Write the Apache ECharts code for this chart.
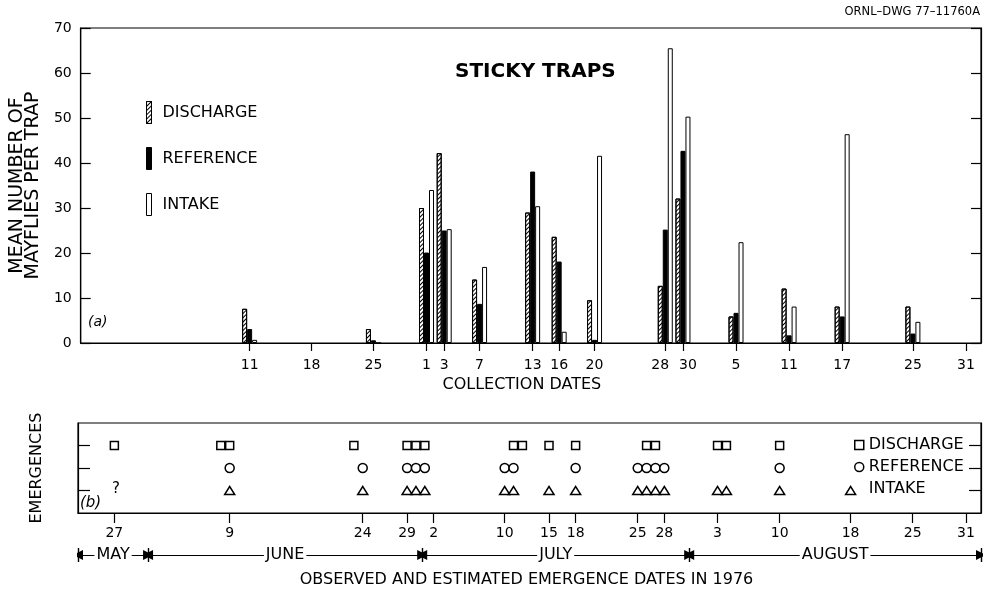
<!DOCTYPE html>
<html><head><meta charset="utf-8">
<script src="https://cdn.jsdelivr.net/npm/echarts@6/dist/echarts.min.js"></script>
<style>html,body{margin:0;padding:0;background:#fff}#c{width:989px;height:593px}</style>
</head><body><div id="c"></div>
<script>
// Day numbers: 1 = June 1, 1976 (0 = May 31, 31 = July 1, 62 = August 1)
const collectionDays   = [11, 25, 31, 33, 37, 43, 46, 50, 58, 60, 66, 72, 78, 86];
const dischargeMean    = [7.6, 3.1, 30.0, 42.2, 14.1, 29.0, 23.6, 9.5, 12.7, 32.1, 5.9, 12.1, 8.1, 8.1];
const referenceMean    = [3.1, 0.6, 20.1, 25.0, 8.7, 38.1, 18.1, 0.7, 25.2, 42.7, 6.7, 1.7, 5.9, 2.1];
const intakeMean       = [0.7, 0, 34.0, 25.3, 16.9, 30.4, 2.5, 41.6, 65.5, 50.3, 22.4, 8.1, 46.4, 4.7];

const collectionTickDays   = [11, 18, 25, 31, 33, 37, 43, 46, 50, 58, 60, 66, 72, 78, 86, 92];
const collectionTickLabels = ['11','18','25','1','3','7','13','16','20','28','30','5','11','17','25','31'];

const dischargeEmergence = [-4, 8, 9, 23, 29, 30, 31, 41, 42, 45, 48, 56, 57, 64, 65, 71];
const referenceEmergence = [9, 24, 29, 30, 31, 40, 41, 48, 55, 56, 57, 58, 71];
const intakeEmergence    = [9, 24, 29, 30, 31, 40, 41, 45, 48, 55, 56, 57, 58, 64, 65, 71, 79];

const emergenceTickDays   = [-4, 9, 24, 29, 32, 40, 45, 48, 55, 58, 64, 71, 79, 86, 92];
const emergenceTickLabels = ['27','9','24','29','2','10','15','18','25','28','3','10','18','25','31'];

const months      = ['MAY', 'JUNE', 'JULY', 'AUGUST'];
const monthBounds = [-8.1, -0.2, 30.7, 60.8, 93.7];

const DAY_MIN = -8.1, DAY_MAX = 93.7;
const FONT = 'DejaVu Sans';
const BLACK = '#000';

const chart = echarts.init(document.getElementById('c'), null, {renderer: 'canvas'});

const axisLineStyle = {show: true, onZero: false, lineStyle: {color: BLACK, width: 1.2}};
const tickStyle = {color: BLACK, width: 1.2};

// crowded neighbouring labels (28 / 30) are nudged apart, as in the drawing
function collectionLabel(v) {
  const i = collectionTickDays.indexOf(v);
  const t = collectionTickLabels[i];
  const prev = collectionTickDays[i - 1], next = collectionTickDays[i + 1];
  if (next !== undefined && next - v <= 2 && t.length > 1) return '{l|' + t + '}';
  if (prev !== undefined && v - prev <= 2 && t.length > 1) return '{r|' + t + '}';
  return t;
}

const option = {
  animation: false,
  backgroundColor: '#fff',
  textStyle: {fontFamily: FONT, color: BLACK},
  title: [
    {text: 'STICKY TRAPS', left: 455, top: 62, padding: 0,
     textStyle: {fontFamily: FONT, fontSize: 20, fontWeight: 'bold', color: BLACK}},
    {text: 'ORNL–DWG 77–11760A', right: 9, top: 6, padding: 0,
     textStyle: {fontFamily: FONT, fontSize: 11.5, fontWeight: 'normal', color: BLACK}},
    {text: '(a)', left: 88, top: 315, padding: 0,
     textStyle: {fontFamily: FONT, fontSize: 14, fontStyle: 'italic', fontWeight: 'normal', color: BLACK}},
    {text: '(b)', left: 80, top: 496, padding: 0,
     textStyle: {fontFamily: FONT, fontSize: 15, fontStyle: 'italic', fontWeight: 'normal', color: BLACK}},
    {text: '?', left: 112, top: 482, padding: 0,
     textStyle: {fontFamily: FONT, fontSize: 15, fontWeight: 'normal', color: BLACK}}
  ],
  legend: [
    {left: 141, top: 96, orient: 'vertical', itemWidth: 5, itemHeight: 22, itemGap: 23,
     icon: 'rect', selectedMode: false,
     data: ['DISCHARGE', 'REFERENCE', 'INTAKE'],
     itemStyle: {borderWidth: 1, borderColor: BLACK},
     textStyle: {fontFamily: FONT, fontSize: 16, color: BLACK, padding: [0, 0, 0, 6]}},
    {left: 849, top: 432, orient: 'vertical', itemWidth: 9, itemHeight: 9, itemGap: 6,
     selectedMode: false,
     data: ['DISCHARGE (b)', 'REFERENCE (b)', {name: 'INTAKE (b)', icon: 'none'}],
     formatter: n => n.replace(' (b)', ''),
     itemStyle: {borderWidth: 1.5, borderColor: BLACK},
     textStyle: {fontFamily: FONT, fontSize: 16, color: BLACK}}
  ],
  grid: [
    {left: 78, right: 8, top: 28, height: 315, show: true, borderColor: BLACK, borderWidth: 1.2},
    {left: 78, right: 8, top: 423, height: 90, show: true, borderColor: BLACK, borderWidth: 1.2},
    {left: 78, right: 8, top: 548, height: 14}
  ],
  xAxis: [
    {gridIndex: 0, type: 'value', min: DAY_MIN, max: DAY_MAX, splitLine: {show: false},
     axisLine: axisLineStyle,
     axisTick: {show: true, customValues: collectionTickDays, length: 8, inside: false, lineStyle: tickStyle},
     axisLabel: {customValues: collectionTickDays, fontFamily: FONT, fontSize: 14, color: BLACK, margin: 15,
                 formatter: collectionLabel,
                 rich: {l: {fontFamily: FONT, fontSize: 14, color: BLACK, padding: [0, 10, 0, 0]},
                        r: {fontFamily: FONT, fontSize: 14, color: BLACK, padding: [0, 0, 0, 10]}}},
     name: 'COLLECTION DATES', nameLocation: 'middle', nameGap: 34,
     nameTextStyle: {fontFamily: FONT, fontSize: 16, color: BLACK, padding: [0, 18, 0, 0]}},
    {gridIndex: 1, type: 'value', min: DAY_MIN, max: DAY_MAX, splitLine: {show: false},
     axisLine: axisLineStyle,
     axisTick: {show: true, customValues: emergenceTickDays, length: 10, inside: false, lineStyle: tickStyle},
     axisLabel: {customValues: emergenceTickDays, fontFamily: FONT, fontSize: 14, color: BLACK, margin: 13,
                 formatter: v => emergenceTickLabels[emergenceTickDays.indexOf(v)]},
     name: 'OBSERVED AND ESTIMATED EMERGENCE DATES IN 1976', nameLocation: 'middle', nameGap: 59,
     nameTextStyle: {fontFamily: FONT, fontSize: 16, color: BLACK, padding: [0, 6, 0, 0]}},
    {gridIndex: 2, type: 'value', min: DAY_MIN, max: DAY_MAX, show: false}
  ],
  yAxis: [
    {gridIndex: 0, type: 'value', min: 0, max: 70, interval: 10, position: 'left',
     splitLine: {show: false}, axisLine: axisLineStyle,
     axisTick: {show: true, inside: true, length: 10, lineStyle: tickStyle},
     axisLabel: {fontFamily: FONT, fontSize: 14, color: BLACK, margin: 9},
     name: 'MEAN NUMBER OF\nMAYFLIES PER TRAP', nameLocation: 'middle', nameGap: 36, nameRotate: 90,
     nameTextStyle: {fontFamily: FONT, fontSize: 19, lineHeight: 16, color: BLACK}},
    {gridIndex: 0, type: 'value', min: 0, max: 70, interval: 10, position: 'right',
     splitLine: {show: false}, axisLine: axisLineStyle,
     axisTick: {show: true, inside: true, length: 10, lineStyle: tickStyle},
     axisLabel: {show: false}},
    {gridIndex: 1, type: 'value', min: 0, max: 4, position: 'left',
     splitLine: {show: false}, axisLine: axisLineStyle,
     axisTick: {show: true, inside: true, length: 12, customValues: [1, 2, 3], lineStyle: tickStyle},
     axisLabel: {show: false, customValues: [1, 2, 3]},
     name: 'EMERGENCES', nameLocation: 'middle', nameGap: 33, nameRotate: 90,
     nameTextStyle: {fontFamily: FONT, fontSize: 16, color: BLACK}},
    {gridIndex: 1, type: 'value', min: 0, max: 4, position: 'right',
     splitLine: {show: false}, axisLine: axisLineStyle,
     axisTick: {show: true, inside: true, length: 12, customValues: [1, 2, 3], lineStyle: tickStyle},
     axisLabel: {show: false, customValues: [1, 2, 3]}},
    {gridIndex: 2, type: 'value', min: -1, max: 1, show: false}
  ],
  series: [
    {type: 'bar', name: 'DISCHARGE', xAxisIndex: 0, yAxisIndex: 0, barWidth: 5, barGap: '0%',
     data: collectionDays.map((d, i) => [d, dischargeMean[i]]),
     itemStyle: {color: '#fff', borderColor: BLACK, borderWidth: 1,
       decal: {symbol: 'rect', symbolSize: 1, dashArrayX: [1, 0], dashArrayY: [1, 2],
               rotation: -Math.PI / 4, color: BLACK}}},
    {type: 'bar', name: 'REFERENCE', xAxisIndex: 0, yAxisIndex: 0, barWidth: 5, barGap: '0%',
     data: collectionDays.map((d, i) => [d, referenceMean[i]]),
     itemStyle: {color: BLACK, borderColor: BLACK, borderWidth: 1}},
    {type: 'bar', name: 'INTAKE', xAxisIndex: 0, yAxisIndex: 0, barWidth: 5, barGap: '0%',
     data: collectionDays.map((d, i) => [d, intakeMean[i]]),
     itemStyle: {color: '#fff', borderColor: BLACK, borderWidth: 1}},

    {type: 'scatter', name: 'DISCHARGE (b)', xAxisIndex: 1, yAxisIndex: 2, symbol: 'rect', symbolSize: 8,
     data: dischargeEmergence.map(d => [d, 3]),
     itemStyle: {color: '#fff', borderColor: BLACK, borderWidth: 1.5, opacity: 1}},
    {type: 'scatter', name: 'REFERENCE (b)', xAxisIndex: 1, yAxisIndex: 2, symbol: 'circle', symbolSize: 9,
     data: referenceEmergence.map(d => [d, 2]),
     itemStyle: {color: '#fff', borderColor: BLACK, borderWidth: 1.5, opacity: 1}},
    {type: 'scatter', name: 'INTAKE (b)', xAxisIndex: 1, yAxisIndex: 2, symbol: 'triangle', symbolSize: [10, 8],
     data: intakeEmergence.map(d => [d, 1]),
     itemStyle: {color: '#fff', borderColor: BLACK, borderWidth: 1.5, opacity: 1}},

    {type: 'lines', coordinateSystem: 'cartesian2d', xAxisIndex: 2, yAxisIndex: 4,
     symbol: ['triangle', 'triangle'], symbolSize: 10, silent: true,
     lineStyle: {color: BLACK, width: 1.2, opacity: 1},
     data: months.map((m, i) => ({name: m, coords: [[monthBounds[i], 0], [monthBounds[i + 1], 0]]}))},
    {type: 'lines', coordinateSystem: 'cartesian2d', xAxisIndex: 2, yAxisIndex: 4,
     symbol: ['none', 'none'], silent: true,
     lineStyle: {color: BLACK, width: 1.4, opacity: 1},
     data: monthBounds.map(b => ({coords: [[b, -1], [b, 1]]}))},
    {type: 'scatter', xAxisIndex: 2, yAxisIndex: 4, symbol: 'circle', symbolSize: 1, silent: true,
     itemStyle: {color: '#fff', opacity: 1},
     label: {show: true, position: 'inside', formatter: '{b}', fontFamily: FONT, fontSize: 16,
             color: BLACK, opacity: 1, backgroundColor: '#fff', padding: [0, 2]},
     data: months.map((m, i) => ({name: m, value: [(monthBounds[i] + monthBounds[i + 1]) / 2, 0]}))}
  ]
};
chart.setOption(option);
</script>
</body></html>
